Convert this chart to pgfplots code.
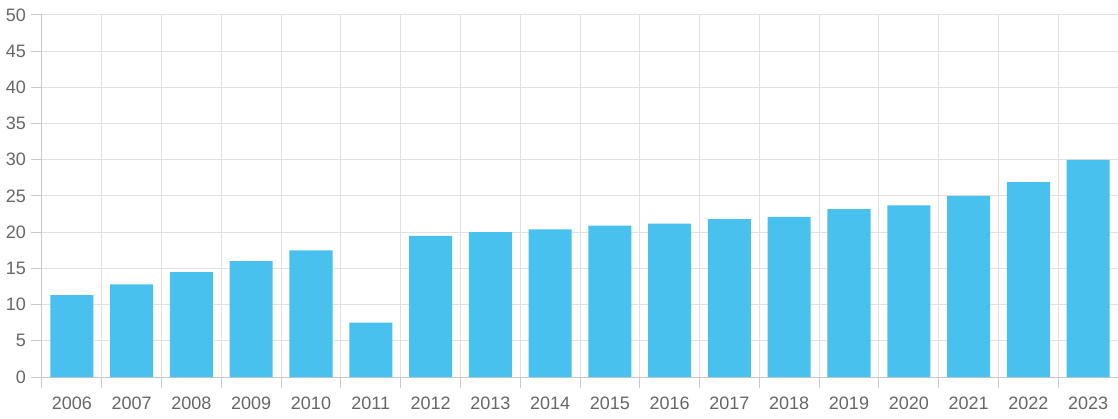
\documentclass[border=0pt]{standalone}
\usepackage{pgfplots}
\pgfplotsset{compat=1.18}
\usepackage{fontspec}
\setmainfont{Liberation Sans}
\definecolor{barc}{RGB}{73,193,239}
\definecolor{gridc}{RGB}{225,225,225}
\definecolor{axc}{RGB}{200,200,200}
\definecolor{txt}{RGB}{102,102,102}
\begin{document}
\begin{tikzpicture}
\useasboundingbox (-31.5pt,-30.75pt) rectangle (807pt,282.75pt);
\begin{axis}[
  at={(0,0)}, anchor=south west,
  scale only axis, width=807pt, height=271.5pt,
  xmin=-0.5, xmax=17.5, ymin=0, ymax=50,
  xtick={0,...,17},
  xticklabels={2006,2007,2008,2009,2010,2011,2012,2013,2014,2015,2016,2017,2018,2019,2020,2021,2022,2023},
  minor xtick={-0.5,0.5,...,17.5},
  ytick={0,5,...,50},
  axis x line*=bottom, axis y line*=left,
  xminorgrids, ymajorgrids,
  grid style={gridc, line width=0.75pt},
  tick align=outside,
  major tick length=8.5pt, minor tick length=8.6pt,
  major x tick style={draw=none},
  tick style={axc, line width=0.75pt},
  axis line style={axc, line width=0.75pt},
  tick label style={font=\fontsize{13.5}{15}\selectfont, text=txt},
  xticklabel style={yshift=-3pt},
  /pgf/number format/assume math mode=true,
  ybar, bar width=0.72,
]
\addplot[fill=barc, draw=none] coordinates {
(0,11.3) (1,12.8) (2,14.5) (3,16.0) (4,17.5) (5,7.5)
(6,19.5) (7,20.0) (8,20.4) (9,20.9) (10,21.2) (11,21.8)
(12,22.1) (13,23.2) (14,23.7) (15,25.0) (16,26.9) (17,30.0)
};
\end{axis}
\end{tikzpicture}
\end{document}
